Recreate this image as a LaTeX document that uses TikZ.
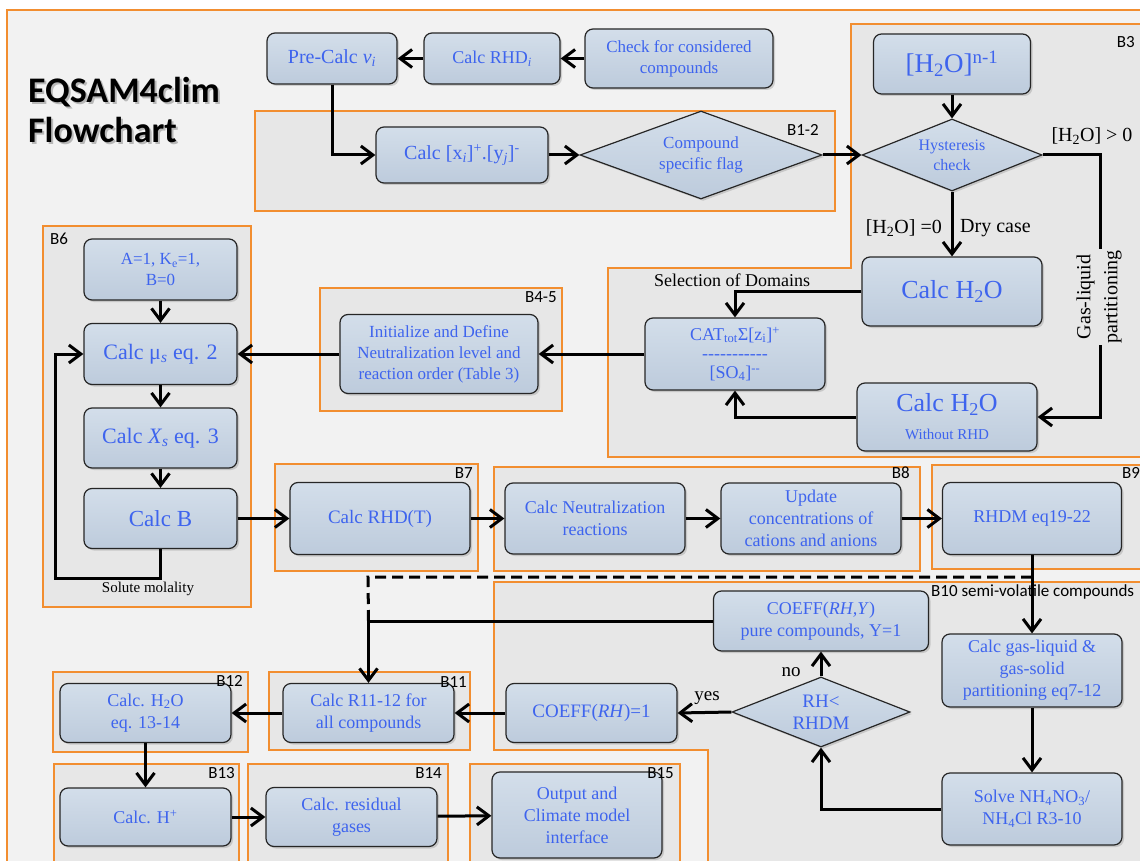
\documentclass[tikz,border=0pt]{standalone}
\usepackage{fontspec}
\setmainfont{Liberation Serif}
\newfontfamily\tagfont{Carlito}
\usetikzlibrary{arrows.meta,shapes.geometric,shadows}

\definecolor{pagegray}{RGB}{242,242,242}
\definecolor{panelgray}{RGB}{231,231,231}
\definecolor{edgeorange}{RGB}{242,142,48}
\definecolor{boxtop}{RGB}{211,222,234}
\definecolor{boxbottom}{RGB}{189,203,220}
\definecolor{boxtext}{RGB}{62,100,238}

\begin{document}
\begin{tikzpicture}[
  x=1pt, y=-1pt,
  box/.style={draw=black!85, line width=1.2pt, rounded corners=8pt,
    top color=boxtop, bottom color=boxbottom, text=boxtext, align=center,
    inner sep=2pt, font=\fontsize{18}{22}\selectfont,
    drop shadow={shadow xshift=2pt, shadow yshift=-2pt, opacity=.3}},
  decision/.style={box, diamond, rounded corners=0pt, aspect=2.6, inner sep=0pt},
  block/.style={draw=edgeorange, line width=1.2pt, fill=panelgray},
  tag/.style={font=\tagfont\fontsize{17}{19}\selectfont, inner sep=1pt},
  note/.style={font=\fontsize{20}{22}\selectfont, inner sep=1pt},
  titletext/.style={font=\tagfont\bfseries\fontsize{36}{40}\selectfont, align=left, inner sep=0pt},
  flow/.style={draw, line width=3pt, -{Straight Barb[length=12pt,width=18pt,line width=3pt]}},
  dashline/.style={draw, line width=3pt, dash pattern=on 11pt off 6pt},
]
\useasboundingbox (0,0) rectangle (1140,861);
\fill[white] (0,0) rectangle (1140,861);

% ---------------- panels ----------------
\draw[block, fill=pagegray] (7,10) rectangle (1150,870);
\draw[block] (255,111) rectangle (835,211);
\draw[block] (851,24) -- (1150,24) -- (1150,457) -- (608,457) -- (608,268) -- (851,268) -- cycle;
\draw[block] (320,288) rectangle (562,411);
\draw[block] (43,226) rectangle (251,607);
\draw[block] (275,464) rectangle (478,571);
\draw[block] (494,467) rectangle (920,571);
\draw[block] (932,465) rectangle (1150,569);
\draw[block] (494,582) -- (1150,582) -- (1150,870) -- (708,870) -- (708,750) -- (494,750) -- cycle;
\draw[block] (269,672) rectangle (470,750);
\draw[block] (53,672) rectangle (248,752);
\draw[block] (54,764) rectangle (239,870);
\draw[block] (248,764) rectangle (448,870);
\draw[block] (470,764) rectangle (680,870);

% ---------------- title ----------------
\node[titletext, text=black!28, anchor=north west] (titleshadow) at (30,79) {EQSAM4clim\\Flowchart};
\node[titletext, anchor=north west] (title) at (28,77) {EQSAM4clim\\Flowchart};

% ---------------- pre-calculation and B1-2 ----------------
\node[box, minimum width=130pt, minimum height=51pt, font=\fontsize{20}{22}\selectfont] (precalc) at (332,58.5)
  {Pre-Calc \textit{v}\textsubscript{\textit{i}}};
\node[box, minimum width=136pt, minimum height=51pt] (calcrhdi) at (492,58.5)
  {Calc RHD\textsubscript{\textit{i}}};
\node[box, minimum width=188pt, minimum height=59pt, font=\fontsize{17}{21}\selectfont] (check) at (679,58.5)
  {Check for considered\\compounds};
\node[box, minimum width=172pt, minimum height=56pt, font=\fontsize{20}{22}\selectfont] (calcxy) at (462,155)
  {Calc [x\textsubscript{\textit{i}}]\textsuperscript{+}.[y\textsubscript{\textit{j}}]\textsuperscript{-}};
\node[decision, minimum width=242pt, minimum height=88pt, font=\fontsize{17}{21}\selectfont] (flag) at (701,155)
  {Compound\\specific flag};

% ---------------- B3 water ----------------
\node[box, minimum width=157pt, minimum height=60pt, font=\fontsize{27}{29}\selectfont] (h2on) at (952,64)
  {[H\textsubscript{2}O]\textsuperscript{n-1}};
\node[decision, minimum width=180pt, minimum height=72pt, font=\fontsize{16}{20}\selectfont] (hyst) at (952,155)
  {Hysteresis\\check};
\node[box, minimum width=180pt, minimum height=69pt, font=\fontsize{26}{28}\selectfont] (calch2o) at (952,291.5)
  {Calc H\textsubscript{2}O};
\node[box, minimum width=180pt, minimum height=68pt, font=\fontsize{26}{26}\selectfont] (calch2ow) at (947,417)
  {Calc H\textsubscript{2}O\\[2pt]{\fontsize{15}{17}\selectfont Without RHD}};
\node[box, minimum width=180pt, minimum height=72pt] (cat) at (735,354)
  {CAT\textsubscript{tot}Σ[z\textsubscript{i}]\textsuperscript{+}\\[-3pt]
   -{}-{}-{}-{}-{}-{}-{}-{}-{}-{}-\\[-3pt][SO\textsubscript{4}]\textsuperscript{-{}-}};

% ---------------- B4-5 and B6 ----------------
\node[box, minimum width=198pt, minimum height=79pt, font=\fontsize{17}{21}\selectfont] (init) at (439,354)
  {Initialize and Define\\Neutralization level and\\reaction order (Table 3)};
\node[box, minimum width=153pt, minimum height=61pt, font=\fontsize{17}{21}\selectfont] (ainit) at (160.5,269.5)
  {A=1, K\textsubscript{e}=1,\\B=0};
\node[box, minimum width=153pt, minimum height=61pt, font=\fontsize{22}{24}\selectfont] (calcmu) at (160.5,354)
  {Calc μ\textsubscript{\textit{s}} eq. 2};
\node[box, minimum width=153pt, minimum height=60pt, font=\fontsize{22}{24}\selectfont] (calcxs) at (160.5,438)
  {Calc \textit{X}\textsubscript{\textit{s}} eq. 3};
\node[box, minimum width=153pt, minimum height=60pt, font=\fontsize{23}{25}\selectfont] (calcb) at (160.5,518.5)
  {Calc B};

% ---------------- B7 to B9 ----------------
\node[box, minimum width=180pt, minimum height=72pt, font=\fontsize{19}{22}\selectfont] (calcrhdt) at (380,518.5)
  {Calc RHD(T)};
\node[box, minimum width=180pt, minimum height=71pt] (calcneut) at (595,518.5)
  {Calc Neutralization\\reactions};
\node[box, minimum width=180pt, minimum height=71pt] (update) at (811,518.5)
  {Update\\concentrations of\\cations and anions};
\node[box, minimum width=179pt, minimum height=72pt] (rhdm) at (1032,518.5)
  {RHDM eq19-22};

% ---------------- B10 semi-volatile ----------------
\node[box, minimum width=215pt, minimum height=60pt] (coeffy) at (821,621)
  {COEFF(\textit{RH,Y})\\pure compounds, Y=1};
\node[box, minimum width=180pt, minimum height=73pt] (gasliq) at (1032,670.5)
  {Calc gas-liquid \&\\gas-solid\\partitioning eq7-12};
\node[decision, minimum width=178pt, minimum height=70pt, font=\fontsize{19}{22}\selectfont] (rhless) at (821,712)
  {RH<\\RHDM};
\node[box, minimum width=171pt, minimum height=59pt, font=\fontsize{19}{22}\selectfont] (coeff1) at (591.5,713)
  {COEFF(\textit{RH})=1};
\node[box, minimum width=180pt, minimum height=72pt] (solve) at (1032,809)
  {Solve NH\textsubscript{4}NO\textsubscript{3}/\\NH\textsubscript{4}Cl R3-10};

% ---------------- B11 to B15 ----------------
\node[box, minimum width=171pt, minimum height=59pt] (calcr11) at (368.5,713)
  {Calc R11-12 for\\all compounds};
\node[box, minimum width=171pt, minimum height=59pt] (calch2oeq) at (145.5,713)
  {Calc. H\textsubscript{2}O\\eq. 13-14};
\node[box, minimum width=171pt, minimum height=58pt] (calchplus) at (145.5,817)
  {Calc. H\textsuperscript{+}};
\node[box, minimum width=171pt, minimum height=59pt] (residual) at (351.5,817)
  {Calc. residual\\gases};
\node[box, minimum width=170pt, minimum height=86pt] (output) at (577,815)
  {Output and\\Climate model\\interface};

% block tags sit on top of the boxes
\node[tag, anchor=east] (tb12) at (820,130) {B1-2};
\node[tag, anchor=east] (tb3)  at (1136,42) {B3};
\node[tag, anchor=east] (tb45) at (558,297) {B4-5};
\node[tag, anchor=west] (tb6)  at (49,239) {B6};
\node[tag, anchor=east] (tb7)  at (474,473) {B7};
\node[tag, anchor=east] (tb8)  at (911,473) {B8};
\node[tag, anchor=west] (tb9)  at (1121,473) {B9};
\node[tag, anchor=west] (tb10) at (930,592) {B10 semi-volatile compounds};
\node[tag, anchor=east] (tb11) at (468,682) {B11};
\node[tag, anchor=east] (tb12b) at (244,681) {B12};
\node[tag, anchor=east] (tb13) at (236,773) {B13};
\node[tag, anchor=east] (tb14) at (443,773) {B14};
\node[tag, anchor=east] (tb15) at (675,773) {B15};

% ---------------- connectors ----------------
\coordinate (glturn)     at (1100,155);
\coordinate (loopturn)   at (55,578);
\coordinate (dashcorner) at (368,577);

\draw[flow] (check) -- (calcrhdi);
\draw[flow] (calcrhdi) -- (precalc);
\draw[flow] (precalc.south) |- (calcxy.west);
\draw[flow] (calcxy) -- (flag);
\draw[flow] (flag.east) -- (hyst.west);
\draw[flow] (h2on) -- (hyst);
\draw[flow] (hyst.south) -- (calch2o.north);
\draw[flow] (hyst.east) -- (glturn) |- (calch2ow.east);
\draw[flow] (calch2o.west) -| (cat.north);
\draw[flow] (calch2ow.west) -| (cat.south);
\draw[flow] (cat) -- (init);
\draw[flow] (init) -- (calcmu);
\draw[flow] (ainit) -- (calcmu);
\draw[flow] (calcmu) -- (calcxs);
\draw[flow] (calcxs) -- (calcb);
\draw[flow] (calcb.south) |- (loopturn) |- (calcmu.west);
\draw[flow] (calcb) -- (calcrhdt);
\draw[flow] (calcrhdt) -- (calcneut);
\draw[flow] (calcneut) -- (update);
\draw[flow] (update) -- (rhdm);
\draw[flow] (rhdm) -- (gasliq);
\draw[flow] (gasliq) -- (solve);
\draw[flow] (solve.west) -| (rhless.south);
\draw[flow] (rhless) -- (coeffy);
\draw[flow] (rhless.west) -- (coeff1.east);
\draw[flow] (coeffy.west) -| (calcr11.north);
\draw[flow] (coeff1) -- (calcr11);
\draw[flow] (calcr11) -- (calch2oeq);
\draw[flow] (calch2oeq) -- (calchplus);
\draw[flow] (calchplus) -- (residual);
\draw[flow] (residual) -- (output);
\draw[dashline] (calcr11.north |- coeffy.west) -- (dashcorner) -- (dashcorner -| rhdm.south);

% ---------------- labels ----------------
\node[note] (h2opos) at (1092,136) {[H\textsubscript{2}O] > 0};
\node[note, anchor=east] (h2ozero) at (943,228) {[H\textsubscript{2}O] =0};
\node[note, anchor=west] (drycase) at (959,228) {Dry case};
\node[note, font=\fontsize{18}{20}\selectfont] (domains) at (732,280) {Selection of Domains};
\node[note, rotate=90, align=center, fill=panelgray, font=\fontsize{20}{27}\selectfont] (gaspart) at (1099,297)
  {Gas-liquid\\partitioning};
\node[note, font=\fontsize{15}{17}\selectfont] (molality) at (148,589) {Solute molality};
\node[note, font=\fontsize{19}{21}\selectfont] (yes) at (707,698) {yes};
\node[note, font=\fontsize{19}{21}\selectfont] (no)  at (791,672) {no};

\end{tikzpicture}
\end{document}
